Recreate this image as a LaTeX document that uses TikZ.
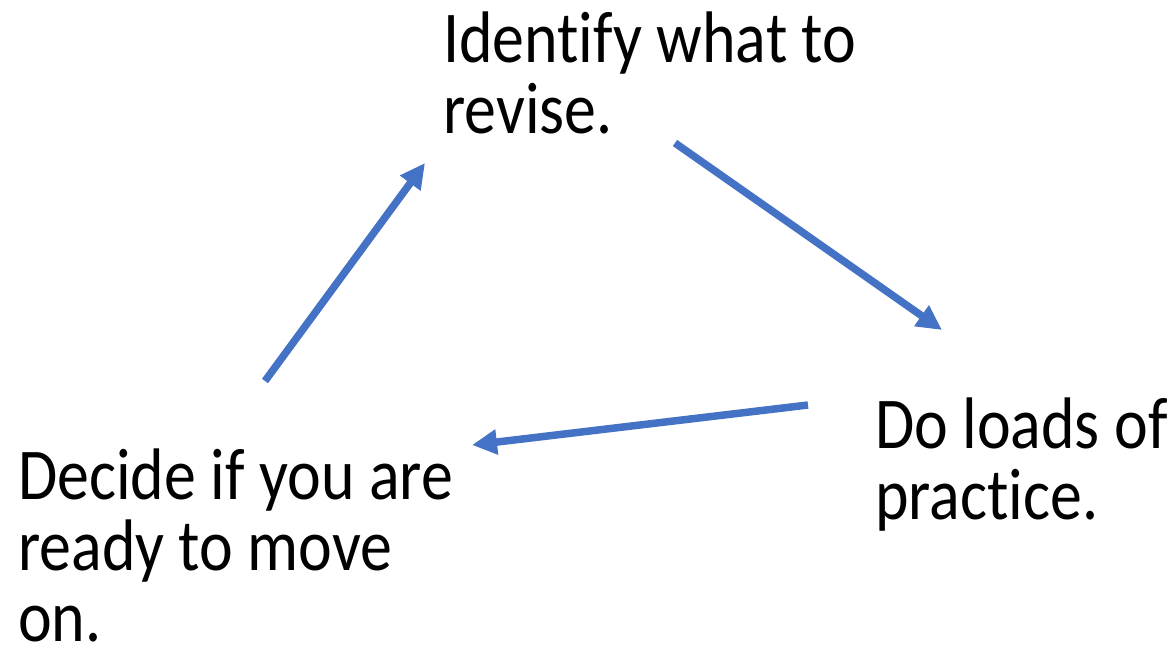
\documentclass[tikz,border=0pt]{standalone}
\usepackage{fontspec}
\setmainfont[Ligatures=NoCommon]{Carlito}
\usetikzlibrary{arrows.meta}
\definecolor{officeblue}{HTML}{4472C4}
\tikzset{
  label text/.style={anchor=base west, inner sep=0pt, align=left,
    font=\fontsize{73}{71}\selectfont, xscale=0.875, transform shape},
  cycle arrow/.style={draw=officeblue, line width=7.5pt,
    -{Triangle[length=25pt,width=24pt]}}
}
\begin{document}
\begin{tikzpicture}[x=1pt,y=-1pt]
\useasboundingbox (0,0) rectangle (1176,654);
\node[label text] (identify) at (443,133) {Identify what to\\revise.};
\node[label text] (practice) at (875,519) {Do loads of\\practice.};
\node[label text] (decide) at (18,641) {Decide if you are\\ready to move\\on.};
\coordinate (a1s) at (265,381);
\coordinate (a1e) at (425,163);
\coordinate (a2s) at (675,143);
\coordinate (a2e) at (942,330);
\coordinate (a3s) at (808,405);
\coordinate (a3e) at (472,445);
\draw[cycle arrow] (a1s) -- (a1e);
\draw[cycle arrow] (a2s) -- (a2e);
\draw[cycle arrow] (a3s) -- (a3e);
\end{tikzpicture}
\end{document}
